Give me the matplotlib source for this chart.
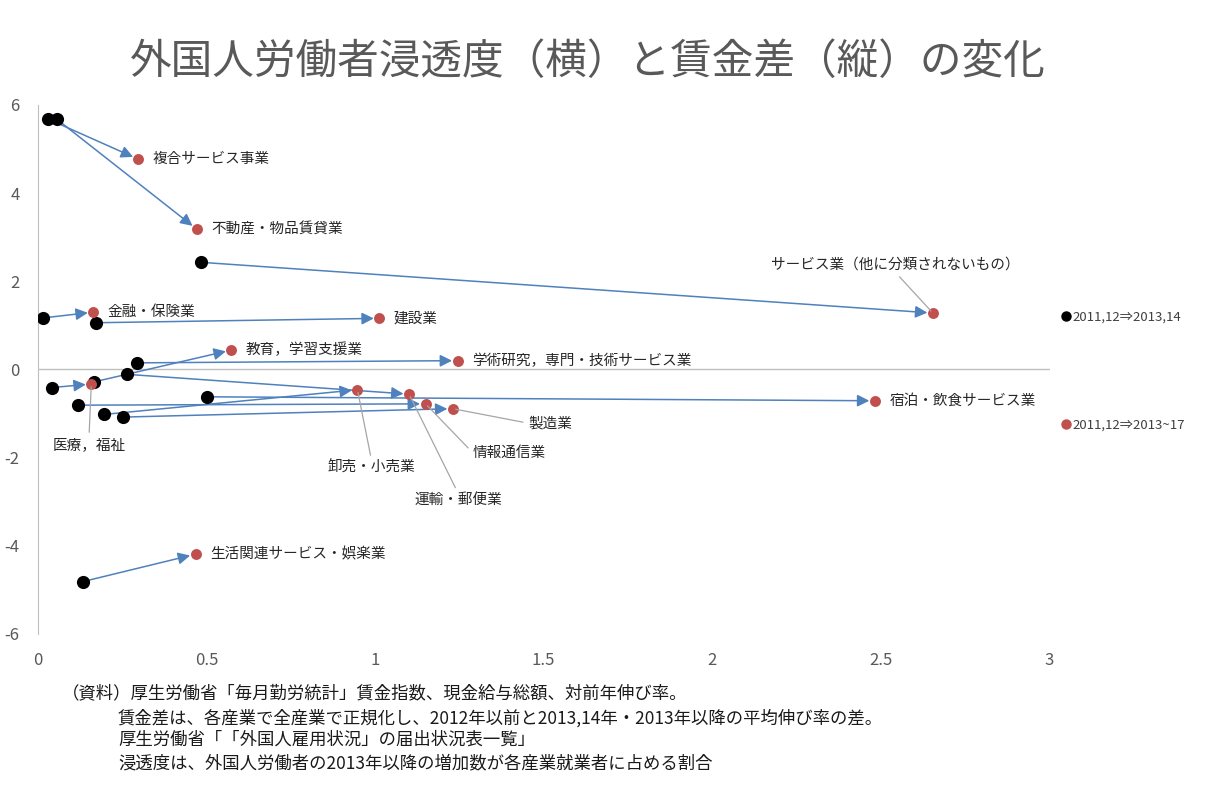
import matplotlib
matplotlib.use("Agg")
import matplotlib.pyplot as plt
from matplotlib.lines import Line2D

plt.rcParams["font.family"] = ["Noto Sans CJK JP", "DejaVu Sans"]
plt.rcParams["axes.unicode_minus"] = False

# 産業別：浸透度(x)と賃金差(y)、始点=2011,12⇒2013,14、終点=2011,12⇒2013~17
industries = [
    "複合サービス事業",
    "不動産・物品賃貸業",
    "サービス業（他に分類されないもの）",
    "金融・保険業",
    "建設業",
    "教育，学習支援業",
    "学術研究，専門・技術サービス業",
    "医療，福祉",
    "卸売・小売業",
    "運輸・郵便業",
    "情報通信業",
    "製造業",
    "宿泊・飲食サービス業",
    "生活関連サービス・娯楽業",
]
x_start = [0.031, 0.056, 0.485, 0.017, 0.173, 0.168, 0.293, 0.042, 0.197, 0.264, 0.120, 0.254, 0.501, 0.135]
y_start = [5.68, 5.68, 2.43, 1.17, 1.06, -0.28, 0.15, -0.41, -1.02, -0.11, -0.81, -1.08, -0.62, -4.81]
x_end = [0.298, 0.472, 2.654, 0.165, 1.013, 0.574, 1.245, 0.159, 0.948, 1.101, 1.150, 1.231, 2.482, 0.468]
y_end = [4.77, 3.18, 1.28, 1.30, 1.16, 0.44, 0.20, -0.33, -0.46, -0.56, -0.78, -0.89, -0.71, -4.19]

legend_labels = ["2011,12⇒2013,14", "2011,12⇒2013~17"]
x_ticks = [0, 0.5, 1, 1.5, 2, 2.5, 3]
x_tick_labels = ["0", "0.5", "1", "1.5", "2", "2.5", "3"]
y_ticks = [-6, -4, -2, 0, 2, 4, 6]

notes = [
    "（資料）厚生労働省「毎月勤労統計」賃金指数、現金給与総額、対前年伸び率。",
    "賃金差は、各産業で全産業で正規化し、2012年以前と2013,14年・2013年以降の平均伸び率の差。",
    "厚生労働省「「外国人雇用状況」の届出状況表一覧」",
    "浸透度は、外国人労働者の2013年以降の増加数が各産業就業者に占める割合",
]

# ラベルを引出線付きで置くもの（テキスト位置, ha, va, 引出線の付け根）
leader_labels = {
    "サービス業（他に分類されないもの）": ((2.542, 2.21), "center", "bottom", (0.5, 0.0)),
    "医療，福祉": ((0.152, -1.55), "center", "top", (0.5, 1.0)),
    "卸売・小売業": ((0.99, -2.07), "center", "top", (0.5, 1.0)),
    "運輸・郵便業": ((1.246, -2.80), "center", "top", (0.5, 1.0)),
    "情報通信業": ((1.29, -1.89), "left", "center", (0.0, 0.5)),
    "製造業": ((1.455, -1.22), "left", "center", (0.0, 0.5)),
}

BLUE = "#4F81BD"
RED = "#C0504D"
GRAY = "#595959"
AXIS = "#BFBFBF"

fig = plt.figure(figsize=(12.12, 7.92), dpi=100)
ax = fig.add_axes([0.0311, 0.1995, 0.8349, 0.6680])

for xs, ys, xe, ye in zip(x_start, y_start, x_end, y_end):
    ax.annotate(
        "", xy=(xe, ye), xytext=(xs, ys),
        arrowprops=dict(arrowstyle="-|>,head_length=0.6,head_width=0.3",
                        color=BLUE, lw=1.1, shrinkA=0, shrinkB=4,
                        mutation_scale=12),
        zorder=2,
    )

ax.scatter(x_start, y_start, s=90, color="black", zorder=3, linewidths=0)
ax.scatter(x_end, y_end, s=62, color=RED, zorder=4, linewidths=0)

for name, xe, ye in zip(industries, x_end, y_end):
    if name in leader_labels:
        pos, ha, va, rel = leader_labels[name]
        ax.annotate(
            name, xy=(xe, ye), xytext=pos, ha=ha, va=va, fontsize=10.5,
            color="#262626",
            arrowprops=dict(arrowstyle="-", color="#A6A6A6", lw=0.9,
                            shrinkA=2, shrinkB=2, relpos=rel),
            zorder=5,
        )
    else:
        ax.annotate(name, xy=(xe, ye), xytext=(10.5, 0),
                    textcoords="offset points", ha="left", va="center",
                    fontsize=10.5, color="#262626", zorder=5)

ax.axhline(0, color=AXIS, lw=1, zorder=1)
ax.set_xlim(0, 3)
ax.set_ylim(-6, 6)
ax.set_xticks(x_ticks)
ax.set_xticklabels(x_tick_labels)
ax.set_yticks(y_ticks)
ax.tick_params(length=0, labelsize=12, labelcolor=GRAY)
ax.tick_params(axis="x", pad=13)
ax.tick_params(axis="y", pad=13)
for side in ["top", "right", "bottom"]:
    ax.spines[side].set_visible(False)
ax.spines["left"].set_color(AXIS)

handles = [
    Line2D([], [], marker="o", linestyle="none", color="black", markersize=6.5),
    Line2D([], [], marker="o", linestyle="none", color=RED, markersize=6.5),
]
fig.legend(handles, legend_labels, loc="center left",
           bbox_to_anchor=(1050 / 1212, 1 - 371 / 792), frameon=False,
           fontsize=9.5, labelspacing=7.2, handlelength=0.6,
           handletextpad=0.2, labelcolor="#404040")

fig.text(588 / 1212, 1 - 62 / 792, "外国人労働者浸透度（横）と賃金差（縦）の変化",
         ha="center", va="center", fontsize=30, color=GRAY)

note_x = [62, 118, 118, 118]
note_y = [693, 718, 740, 763]
for txt, nx, ny in zip(notes, note_x, note_y):
    fig.text(nx / 1212, 1 - ny / 792, txt, ha="left", va="center",
             fontsize=12.5, color="#1a1a1a")

fig.savefig("out.png", dpi=100)
